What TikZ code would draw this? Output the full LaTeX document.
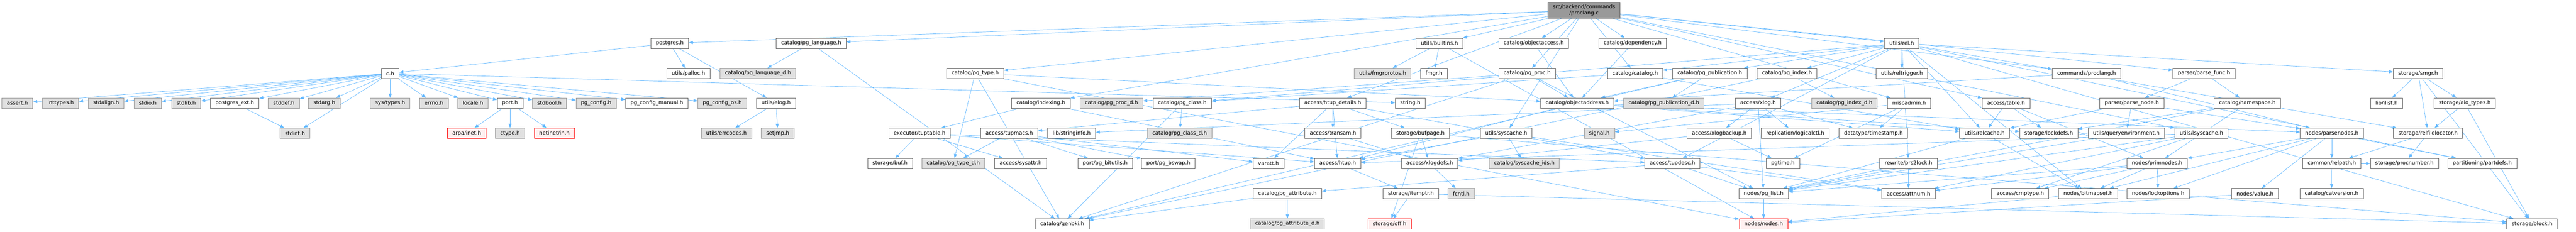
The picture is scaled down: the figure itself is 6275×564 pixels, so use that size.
\documentclass[tikz,border=0pt]{standalone}
\usepackage{fontspec}
\setmainfont{DejaVu Sans}
\usetikzlibrary{arrows.meta,backgrounds}
\definecolor{edgeblue}{HTML}{63B8FF}
\definecolor{boxline}{HTML}{666666}
\definecolor{sysline}{HTML}{999999}
\definecolor{sysfill}{HTML}{E0E0E0}
\definecolor{missfill}{HTML}{FFF0F0}

\begin{document}
\begin{tikzpicture}[x=1pt, y=-1pt,
  hdr/.style={draw=boxline, fill=white, line width=1pt, minimum height=25pt,
    inner xsep=12pt, inner ysep=2pt, font=\fontsize{12.8}{15}\selectfont},
  sys/.style={hdr, draw=sysline, fill=sysfill},
  miss/.style={hdr, draw=red, fill=missfill},
  srcbox/.style={hdr, fill=sysline, align=center, minimum height=40pt},
  dep/.style={draw=edgeblue, line width=0.9pt, -{Triangle[length=10pt,width=7.5pt]}}]
\useasboundingbox (0,0) rectangle (6275,564);

% source file
\node[srcbox] (src) at (3858.5,25) {src/backend/commands\\/proclang.c};

% row 1
\node[hdr] (postgres) at (1631.5,105.5) {postgres.h};
\node[hdr] (pglang) at (1976,105.5) {catalog/pg\_language.h};
\node[hdr] (builtins) at (3506.5,105.5) {utils/builtins.h};
\node[hdr] (objaccess) at (3736,105.5) {catalog/objectaccess.h};
\node[hdr] (depend) at (3977,105.5) {catalog/dependency.h};
\node[hdr] (rel) at (4632.5,105.5) {utils/rel.h};

% row 2
\node[hdr] (ch) at (950.5,178.5) {c.h};
\node[hdr] (palloc) at (1677,178.5) {utils/palloc.h};
\node[sys] (pglangd) at (1846.5,178.5) {catalog/pg\_language\_d.h};
\node[hdr] (pgtype) at (2375.5,178.5) {catalog/pg\_type.h};
\node[sys] (fmgrprotos) at (3368,178.5) {utils/fmgrprotos.h};
\node[hdr] (fmgr) at (3493,178.5) {fmgr.h};
\node[hdr] (pgproc) at (3720,178.5) {catalog/pg\_proc.h};
\node[hdr] (catalog) at (3983,178.5) {catalog/catalog.h};
\node[hdr] (pgpub) at (4165,178.5) {catalog/pg\_publication.h};
\node[hdr] (pgindex) at (4353,178.5) {catalog/pg\_index.h};
\node[hdr] (reltrigger) at (4633,178.5) {utils/reltrigger.h};
\node[hdr] (proclangh) at (5082.5,178.5) {commands/proclang.h};
\node[hdr] (parsefunc) at (5369,178.5) {parser/parse\_func.h};
\node[hdr] (smgr) at (5890.5,178.5) {storage/smgr.h};

% row 3
\node[sys] (assert) at (42.4,251) {assert.h};
\node[sys] (inttypes) at (147.8,251) {inttypes.h};
\node[sys] (stdalign) at (258.5,251) {stdalign.h};
\node[sys] (stdio) at (359.8,251) {stdio.h};
\node[sys] (stdlib) at (453.5,251) {stdlib.h};
\node[hdr] (pgext) at (571.8,251) {postgres\_ext.h};
\node[sys] (stddef) at (691.5,251) {stddef.h};
\node[sys] (stdarg) at (790,251) {stdarg.h};
\node[sys] (systypes) at (950.5,251) {sys/types.h};
\node[sys] (errno) at (1057,251) {errno.h};
\node[sys] (locale) at (1152,251) {locale.h};
\node[hdr] (port) at (1242.5,251) {port.h};
\node[sys] (stdbool) at (1338.5,251) {stdbool.h};
\node[sys] (pgconfig) at (1452,251) {pg\_config.h};
\node[hdr] (pgconfigman) at (1600,251) {pg\_config\_manual.h};
\node[sys] (pgconfigos) at (1759.5,251) {pg\_config\_os.h};
\node[hdr] (elog) at (1890.5,251) {utils/elog.h};
\node[hdr] (indexing) at (2535.5,251) {catalog/indexing.h};
\node[sys] (pgprocd) at (2707.5,251) {catalog/pg\_proc\_d.h};
\node[hdr] (pgclass) at (2880,251) {catalog/pg\_class.h};
\node[hdr] (htupdet) at (3246.5,251) {access/htup\_details.h};
\node[hdr] (string) at (3435.5,251) {string.h};
\node[hdr] (objaddr) at (3842,251) {catalog/objectaddress.h};
\node[sys] (pgpubd) at (4053,251) {catalog/pg\_publication\_d.h};
\node[hdr] (xlog) at (4282.5,251) {access/xlog.h};
\node[sys] (pgindexd) at (4493,251) {catalog/pg\_index\_d.h};
\node[hdr] (miscadmin) at (4650.5,251) {miscadmin.h};
\node[hdr] (table) at (4886.5,251) {access/table.h};
\node[hdr] (parsenode) at (5193,251) {parser/parse\_node.h};
\node[hdr] (namespace) at (5474.5,251) {catalog/namespace.h};
\node[hdr] (ilist) at (5813.5,251) {lib/ilist.h};
\node[hdr] (aiotypes) at (6004,251) {storage/aio\_types.h};

% row 4
\node[sys] (stdint) at (718.5,324.5) {stdint.h};
\node[miss] (arpa) at (1137,324.5) {arpa/inet.h};
\node[sys] (ctype) at (1242.5,324.5) {ctype.h};
\node[miss] (netinet) at (1350.5,324.5) {netinet/in.h};
\node[sys] (errcodes) at (1769.5,324.5) {utils/errcodes.h};
\node[sys] (setjmp) at (1894.5,324.5) {setjmp.h};
\node[hdr] (tuptable) at (2240,324.5) {executor/tuptable.h};
\node[hdr] (tupmacs) at (2458.5,324.5) {access/tupmacs.h};
\node[hdr] (stringinfo) at (2610.5,324.5) {lib/stringinfo.h};
\node[sys] (pgclassd) at (2873.5,324.5) {catalog/pg\_class\_d.h};
\node[hdr] (transam) at (3247,324.5) {access/transam.h};
\node[hdr] (bufpage) at (3460,324.5) {storage/bufpage.h};
\node[hdr] (syscache) at (3669,324.5) {utils/syscache.h};
\node[sys] (signal) at (3896,324.5) {signal.h};
\node[hdr] (xlogbackup) at (4188,324.5) {access/xlogbackup.h};
\node[hdr] (logicalctl) at (4373,324.5) {replication/logicalctl.h};
\node[hdr] (timestamp) at (4563.5,324.5) {datatype/timestamp.h};
\node[hdr] (relcache) at (4834.5,324.5) {utils/relcache.h};
\node[hdr] (lockdefs) at (4990.5,324.5) {storage/lockdefs.h};
\node[hdr] (queryenv) at (5179.5,324.5) {utils/queryenvironment.h};
\node[hdr] (lsyscache) at (5362.5,324.5) {utils/lsyscache.h};
\node[hdr] (parsenodes) at (5680,324.5) {nodes/parsenodes.h};
\node[hdr] (relfileloc) at (5914.5,324.5) {storage/relfilelocator.h};

% row 5
\node[hdr] (buf) at (2168,398) {storage/buf.h};
\node[sys] (pgtyped) at (2322,398) {catalog/pg\_type\_d.h};
\node[hdr] (sysattr) at (2486.5,398) {access/sysattr.h};
\node[hdr] (bitutils) at (2692,398) {port/pg\_bitutils.h};
\node[hdr] (bswap) at (2846,398) {port/pg\_bswap.h};
\node[hdr] (varatt) at (3090,398) {varatt.h};
\node[hdr] (htup) at (3258.5,398) {access/htup.h};
\node[hdr] (xlogdefs) at (3482.5,398) {access/xlogdefs.h};
\node[sys] (syscacheids) at (3713,398) {catalog/syscache\_ids.h};
\node[hdr] (tupdesc) at (4074,398) {access/tupdesc.h};
\node[hdr] (pgtime) at (4343,398) {pgtime.h};
\node[hdr] (prs2lock) at (4649,398) {rewrite/prs2lock.h};
\node[hdr] (primnodes) at (5254.5,398) {nodes/primnodes.h};
\node[hdr] (relpath) at (5680,398) {common/relpath.h};
\node[hdr] (procnumber) at (5857,398) {storage/procnumber.h};
\node[hdr] (partdefs) at (6046.5,398) {partitioning/partdefs.h};

% row 6
\node[hdr] (pgattr) at (3136,471.5) {catalog/pg\_attribute.h};
\node[hdr] (itemptr) at (3437,471.5) {storage/itemptr.h};
\node[sys] (fcntl) at (3559.5,471.5) {fcntl.h};
\node[hdr] (pglist) at (4296,471.5) {nodes/pg\_list.h};
\node[hdr] (attnum) at (4649,471.5) {access/attnum.h};
\node[hdr] (cmptype) at (4921,471.5) {access/cmptype.h};
\node[hdr] (bitmapset) at (5086.5,471.5) {nodes/bitmapset.h};
\node[hdr] (lockoptions) at (5257,471.5) {nodes/lockoptions.h};
\node[hdr] (value) at (5493,471.5) {nodes/value.h};
\node[hdr] (catversion) at (5679.5,471.5) {catalog/catversion.h};

% row 7
\node[hdr] (genbki) at (2587.5,545) {catalog/genbki.h};
\node[sys] (pgattrd) at (3136,545) {catalog/pg\_attribute\_d.h};
\node[miss] (off) at (3385,545) {storage/off.h};
\node[miss] (nodesh) at (4296,545) {nodes/nodes.h};
\node[hdr] (block) at (6168,545) {storage/block.h};

\begin{scope}[on background layer]
% includes of proclang.c
\draw[dep] (src) to (postgres);
\draw[dep] (src) to (pglang);
\draw[dep] (src) to (builtins);
\draw[dep] (src) to (objaccess);
\draw[dep] (src) to (depend);
\draw[dep] (src) to (rel);
\draw[dep] (src) to (pgproc);
\draw[dep] (src) to (catalog);
\draw[dep] (src) to (proclangh);
\draw[dep] (src) to (parsefunc);
\draw[dep] (src) to (pgtype);
\draw[dep] (src) to (indexing);
\draw[dep] (src) to (htupdet);
\draw[dep] (src) to (table);
\draw[dep] (src) to (syscache);
\draw[dep] (src) to (lsyscache);
\draw[dep] (src) to (miscadmin);

% postgres.h and c.h
\draw[dep] (postgres) to (ch);
\draw[dep] (postgres) to (palloc);
\draw[dep] (postgres) to (elog);
\draw[dep] (ch) to (assert);
\draw[dep] (ch) to (inttypes);
\draw[dep] (ch) to (stdalign);
\draw[dep] (ch) to (stdio);
\draw[dep] (ch) to (stdlib);
\draw[dep] (ch) to (pgext);
\draw[dep] (ch) to (stddef);
\draw[dep] (ch) to (stdarg);
\draw[dep] (ch) to (stdint);
\draw[dep] (ch) to (systypes);
\draw[dep] (ch) to (errno);
\draw[dep] (ch) to (locale);
\draw[dep] (ch) to (port);
\draw[dep] (ch) to (stdbool);
\draw[dep] (ch) to (pgconfig);
\draw[dep] (ch) to (pgconfigman);
\draw[dep] (ch) to (pgconfigos);
\draw[dep] (ch) to (string);
\draw[dep] (pgext) to (stdint);
\draw[dep] (port) to (arpa);
\draw[dep] (port) to (ctype);
\draw[dep] (port) to (netinet);
\draw[dep] (elog) to (errcodes);
\draw[dep] (elog) to (setjmp);

% catalog headers
\draw[dep] (pglang) to (pglangd);
\draw[dep] (pglang) to (genbki);
\draw[dep] (pgtype) to (pgtyped);
\draw[dep] (pgtype) to (genbki);
\draw[dep] (pgtype) to (objaddr);
\draw[dep] (pgtype) to (nodesh);
\draw[dep] (indexing) to (tuptable);
\draw[dep] (indexing) to (htup);
\draw[dep] (tuptable) to (buf);
\draw[dep] (tuptable) to (sysattr);
\draw[dep] (tuptable) to (htup);
\draw[dep] (tuptable) to (tupdesc);
\draw[dep] (tupmacs) to (pgtyped);
\draw[dep] (tupmacs) to (bitutils);
\draw[dep] (tupmacs) to (bswap);
\draw[dep] (tupmacs) to (varatt);
\draw[dep] (pgproc) to (pgprocd);
\draw[dep] (pgproc) to (genbki);
\draw[dep] (pgproc) to (objaddr);
\draw[dep] (pgproc) to (pglist);
\draw[dep] (pgclass) to (pgclassd);
\draw[dep] (pgclass) to (genbki);
\draw[dep] (pgattr) to (pgattrd);
\draw[dep] (pgattr) to (genbki);
\draw[dep] (builtins) to (fmgrprotos);
\draw[dep] (builtins) to (fmgr);
\draw[dep] (builtins) to (nodesh);

% access and storage
\draw[dep] (htupdet) to (htup);
\draw[dep] (htupdet) to (transam);
\draw[dep] (htupdet) to (tupdesc);
\draw[dep] (htupdet) to (tupmacs);
\draw[dep] (htupdet) to (bufpage);
\draw[dep] (htupdet) to (varatt);
\draw[dep] (transam) to (xlogdefs);
\draw[dep] (bufpage) to (xlogdefs);
\draw[dep] (bufpage) to (off);
\draw[dep] (bufpage) to (block);
\draw[dep] (syscache) to (htup);
\draw[dep] (syscache) to (syscacheids);
\draw[dep] (syscache) to (attnum);
\draw[dep] (htup) to (itemptr);
\draw[dep] (xlogdefs) to (fcntl);
\draw[dep] (itemptr) to (off);
\draw[dep] (itemptr) to (block);
\draw[dep] (objaccess) to (objaddr);
\draw[dep] (depend) to (objaddr);
\draw[dep] (catalog) to (pgclass);
\draw[dep] (catalog) to (relcache);
\draw[dep] (pgpub) to (pgpubd);
\draw[dep] (pgpub) to (objaddr);
\draw[dep] (pgpub) to (genbki);
\draw[dep] (objaddr) to (htup);
\draw[dep] (objaddr) to (parsenodes);
\draw[dep] (objaddr) to (lockdefs);
\draw[dep] (objaddr) to (relcache);
\draw[dep] (xlogbackup) to (xlogdefs);
\draw[dep] (xlogbackup) to (pgtime);
\draw[dep] (tupdesc) to (attnum);
\draw[dep] (tupdesc) to (pgattr);
\draw[dep] (tupdesc) to (pglist);

% utils/rel.h
\draw[dep] (rel) to (tupdesc);
\draw[dep] (rel) to (xlog);
\draw[dep] (rel) to (catalog);
\draw[dep] (rel) to (pgclass);
\draw[dep] (rel) to (pgindex);
\draw[dep] (rel) to (pgpub);
\draw[dep] (rel) to (bitmapset);
\draw[dep] (rel) to (partdefs);
\draw[dep] (rel) to (prs2lock);
\draw[dep] (rel) to (block);
\draw[dep] (rel) to (relfileloc);
\draw[dep] (rel) to (smgr);
\draw[dep] (rel) to (relcache);
\draw[dep] (rel) to (reltrigger);
\draw[dep] (pgindex) to (pgindexd);
\draw[dep] (pgindex) to (genbki);
\draw[dep] (xlog) to (xlogbackup);
\draw[dep] (xlog) to (xlogdefs);
\draw[dep] (xlog) to (timestamp);
\draw[dep] (xlog) to (stringinfo);
\draw[dep] (xlog) to (pglist);
\draw[dep] (xlog) to (logicalctl);
\draw[dep] (miscadmin) to (timestamp);
\draw[dep] (miscadmin) to (pgtime);
\draw[dep] (miscadmin) to (signal);
\draw[dep] (prs2lock) to (attnum);
\draw[dep] (prs2lock) to (pglist);
\draw[dep] (pglist) to (nodesh);

% parser and nodes
\draw[dep] (proclangh) to (objaddr);
\draw[dep] (proclangh) to (parsenodes);
\draw[dep] (table) to (relcache);
\draw[dep] (table) to (lockdefs);
\draw[dep] (table) to (primnodes);
\draw[dep] (parsenode) to (parsenodes);
\draw[dep] (parsenode) to (queryenv);
\draw[dep] (parsenode) to (relcache);
\draw[dep] (relcache) to (bitmapset);
\draw[dep] (relcache) to (pglist);
\draw[dep] (queryenv) to (pglist);
\draw[dep] (primnodes) to (attnum);
\draw[dep] (primnodes) to (cmptype);
\draw[dep] (primnodes) to (bitmapset);
\draw[dep] (primnodes) to (lockoptions);
\draw[dep] (primnodes) to (pglist);
\draw[dep] (parsefunc) to (parsenode);
\draw[dep] (parsefunc) to (namespace);
\draw[dep] (namespace) to (primnodes);
\draw[dep] (namespace) to (lockdefs);
\draw[dep] (namespace) to (pglist);
\draw[dep] (lsyscache) to (attnum);
\draw[dep] (lsyscache) to (cmptype);
\draw[dep] (lsyscache) to (htup);
\draw[dep] (lsyscache) to (pglist);
\draw[dep] (parsenodes) to (relpath);
\draw[dep] (parsenodes) to (bitmapset);
\draw[dep] (parsenodes) to (lockoptions);
\draw[dep] (parsenodes) to (primnodes);
\draw[dep] (parsenodes) to (value);
\draw[dep] (parsenodes) to (partdefs);
\draw[dep] (relpath) to (catversion);
\draw[dep] (relpath) to (procnumber);
\draw[dep] (relfileloc) to (relpath);
\draw[dep] (relfileloc) to (procnumber);
\draw[dep] (value) to (nodesh);
\draw[dep] (bitmapset) to (nodesh);
\draw[dep] (smgr) to (ilist);
\draw[dep] (smgr) to (aiotypes);
\draw[dep] (smgr) to (relfileloc);
\draw[dep] (smgr) to (block);
\draw[dep] (aiotypes) to (relfileloc);
\draw[dep] (aiotypes) to (block);
\end{scope}
\end{tikzpicture}
\end{document}
